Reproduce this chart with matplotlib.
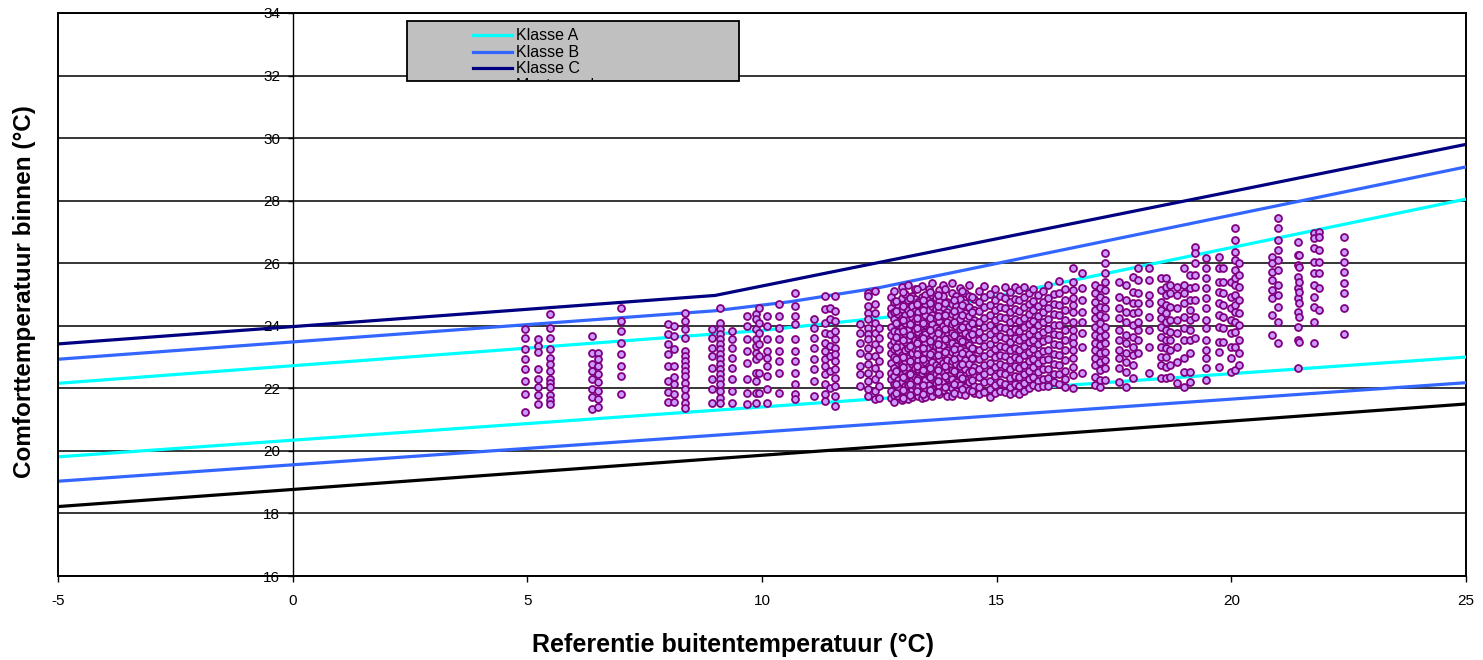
import matplotlib
matplotlib.use("Agg")
import matplotlib.pyplot as plt
from matplotlib.lines import Line2D
from matplotlib.patches import Rectangle
from matplotlib.transforms import Bbox, TransformedBbox

plt.rcParams['font.family'] = ['Liberation Sans', 'DejaVu Sans']

# ---- comfort limit lines (reference outdoor temp -> indoor comfort temp) ----
upper_a_x = [-5, 10, 13, 25]
upper_a_y = [22.16, 23.85, 24.33, 28.05]
upper_b_x = [-5, 9, 10.6, 12.5, 25]
upper_b_y = [22.93, 24.48, 24.77, 25.22, 29.08]
upper_c_x = [-5, 9, 25]
upper_c_y = [23.42, 24.97, 29.80]
lower_a_x = [-5, 25]
lower_a_y = [19.81, 23.00]
lower_b_x = [-5, 25]
lower_b_y = [19.03, 22.18]
lower_c_x = [-5, 25]
lower_c_y = [18.22, 21.50]

# ---- measured hourly values, grouped per day (reference temperature) ----
left_x = [4.96, 5.22, 5.48, 6.37, 6.50, 7.00, 8.00, 8.13, 8.36, 8.93, 9.11,
          9.37, 9.67, 9.87, 9.94, 10.10, 10.36, 10.70, 11.11, 11.35, 11.45,
          11.55, 12.09, 12.25, 12.40, 12.50]
left_y = [
    [23.89, 23.62, 23.25, 22.93, 22.62, 22.24, 21.83, 21.25],
    [23.59, 23.36, 23.15, 22.62, 22.30, 22.03, 21.78, 21.51],
    [24.37, 23.94, 23.62, 23.25, 22.98, 22.78, 22.56, 22.30, 22.16, 22.03, 21.78, 21.62, 21.51],
    [23.67, 23.14, 22.77, 22.55, 22.30, 21.98, 21.71, 21.35],
    [23.14, 22.93, 22.71, 22.46, 22.19, 21.92, 21.66, 21.40],
    [24.58, 24.15, 23.83, 23.46, 23.09, 22.72, 22.40, 21.83],
    [24.05, 23.73, 23.41, 23.09, 22.72, 22.24, 21.87, 21.55],
    [23.99, 23.67, 23.25, 22.72, 22.35, 22.14, 21.82, 21.55],
    [24.42, 24.15, 23.89, 23.62, 23.19, 23.03, 22.87, 22.71, 22.55, 22.39, 22.18, 21.97, 21.75, 21.54, 21.36],
    [23.89, 23.62, 23.30, 23.03, 22.66, 22.29, 21.97, 21.54],
    [24.58, 24.10, 23.89, 23.73, 23.57, 23.41, 23.25, 23.09, 22.93, 22.77, 22.61, 22.45, 22.29, 22.13, 21.92, 21.70, 21.54],
    [23.83, 23.57, 23.30, 22.98, 22.66, 22.29, 21.91, 21.54],
    [24.31, 23.99, 23.57, 23.19, 22.82, 22.29, 21.86, 21.49],
    [24.37, 24.21, 23.89, 23.57, 23.35, 23.14, 22.93, 22.50, 22.23, 21.86, 21.54],
    [24.58, 24.10, 23.78, 23.41, 23.03, 22.50, 21.86],
    [24.31, 23.99, 23.57, 23.19, 22.98, 22.71, 22.39, 21.97, 21.54],
    [24.69, 24.31, 23.94, 23.57, 23.19, 22.87, 22.50, 21.86],
    [25.06, 24.63, 24.31, 24.05, 23.57, 23.19, 22.87, 22.50, 22.13, 21.81, 21.67],
    [24.21, 23.94, 23.62, 23.30, 22.93, 22.61, 22.23, 21.75],
    [24.95, 24.53, 24.10, 23.78, 23.46, 23.19, 22.93, 22.71, 22.45, 22.13, 21.81, 21.59],
    [24.58, 24.21, 23.73, 23.35, 23.03, 22.55, 22.02],
    [24.95, 24.47, 24.15, 23.83, 23.57, 23.30, 23.09, 22.87, 22.61, 22.34, 22.07, 21.75, 21.43],
    [24.05, 23.78, 23.46, 23.14, 22.71, 22.45, 22.07],
    [25.06, 24.95, 24.63, 24.42, 24.21, 23.94, 23.73, 23.57, 23.30, 23.03, 22.77, 22.50, 22.23, 21.97, 21.75],
    [25.11, 24.69, 24.42, 24.10, 23.78, 23.41, 23.03, 22.66, 22.29, 21.91, 21.65],
    [23.94, 23.62, 23.25, 22.87, 22.45, 22.07, 21.70],
]

mid_x = [12.74, 12.82, 12.90, 12.98, 13.05, 13.12, 13.19, 13.26, 13.33, 13.40,
         13.47, 13.55, 13.62, 13.70, 13.78, 13.86, 13.95, 14.04, 14.13, 14.22,
         14.32, 14.42, 14.52, 14.63, 14.74, 14.86, 14.97, 15.07, 15.18, 15.28,
         15.38, 15.48, 15.58, 15.68, 15.78, 15.88, 15.98, 16.10, 16.22, 16.33,
         16.46]
mid_y = [
    [24.93, 24.58, 24.37, 23.96, 23.71, 23.38, 23.14, 22.81, 22.49, 22.30, 21.93, 21.68],
    [25.12, 24.77, 24.44, 24.22, 23.84, 23.52, 23.27, 23.01, 22.66, 22.38, 22.15, 21.80, 21.57],
    [24.66, 24.39, 24.03, 23.79, 23.43, 23.19, 22.90, 22.58, 22.27, 22.02, 21.74],
    [25.24, 24.88, 24.55, 24.25, 23.92, 23.63, 23.35, 23.08, 22.74, 22.47, 22.19, 21.88, 21.63],
    [25.02, 24.71, 24.33, 24.09, 23.74, 23.47, 23.21, 22.86, 22.60, 22.33, 22.06, 21.78],
    [25.30, 24.82, 24.50, 24.18, 23.88, 23.57, 23.30, 22.97, 22.69, 22.42, 22.11, 21.84, 21.66],
    [24.95, 24.63, 24.28, 24.01, 23.69, 23.40, 23.12, 22.79, 22.53, 22.24, 21.96, 21.71],
    [25.16, 24.86, 24.47, 24.15, 23.86, 23.55, 23.26, 22.93, 22.64, 22.36, 22.08, 21.81],
    [24.77, 24.45, 24.12, 23.81, 23.50, 23.23, 22.91, 22.62, 22.33, 22.03, 21.74],
    [25.27, 24.92, 24.58, 24.29, 23.98, 23.66, 23.37, 23.05, 22.77, 22.48, 22.17, 21.90, 21.69],
    [24.99, 24.69, 24.36, 24.04, 23.73, 23.44, 23.15, 22.84, 22.55, 22.26, 21.99, 21.72],
    [25.19, 24.81, 24.51, 24.20, 23.90, 23.58, 23.29, 22.99, 22.71, 22.40, 22.12, 21.85],
    [25.36, 24.97, 24.64, 24.33, 24.05, 23.74, 23.43, 23.16, 22.85, 22.57, 22.29, 21.98, 21.76],
    [24.88, 24.55, 24.24, 23.93, 23.62, 23.34, 23.03, 22.75, 22.46, 22.18, 21.89],
    [25.14, 24.79, 24.47, 24.16, 23.85, 23.54, 23.25, 22.95, 22.67, 22.37, 22.09, 21.81],
    [25.31, 24.94, 24.61, 24.31, 24.00, 23.70, 23.39, 23.11, 22.81, 22.52, 22.23, 21.94],
    [24.76, 24.43, 24.13, 23.79, 23.51, 23.21, 22.90, 22.63, 22.34, 22.06, 21.77],
    [25.38, 25.04, 24.69, 24.39, 24.07, 23.77, 23.46, 23.17, 22.87, 22.60, 22.31, 22.01, 21.75],
    [24.96, 24.62, 24.27, 23.98, 23.66, 23.36, 23.09, 22.78, 22.49, 22.21, 21.91],
    [25.21, 24.85, 24.53, 24.21, 23.89, 23.59, 23.27, 22.99, 22.70, 22.42, 22.11, 21.83],
    [25.06, 24.73, 24.41, 24.07, 23.78, 23.49, 23.19, 22.89, 22.61, 22.31, 22.03, 21.79],
    [25.29, 24.96, 24.61, 24.31, 23.99, 23.67, 23.38, 23.09, 22.79, 22.51, 22.21, 21.94],
    [24.86, 24.51, 24.19, 23.87, 23.57, 23.26, 22.97, 22.67, 22.39, 22.09, 21.84],
    [25.11, 24.77, 24.46, 24.13, 23.81, 23.53, 23.21, 22.93, 22.63, 22.35, 22.05, 21.81],
    [25.26, 24.91, 24.59, 24.26, 23.95, 23.63, 23.35, 23.03, 22.76, 22.45, 22.19, 21.89],
    [25.01, 24.67, 24.36, 24.02, 23.73, 23.41, 23.13, 22.82, 22.55, 22.24, 21.97, 21.73],
    [25.17, 24.84, 24.51, 24.19, 23.87, 23.59, 23.27, 22.99, 22.69, 22.41, 22.11, 21.85],
    [24.94, 24.61, 24.29, 23.97, 23.67, 23.35, 23.07, 22.77, 22.49, 22.19, 21.93],
    [25.24, 24.89, 24.57, 24.25, 23.93, 23.61, 23.33, 23.03, 22.72, 22.45, 22.14, 21.87],
    [25.09, 24.75, 24.43, 24.11, 23.81, 23.49, 23.21, 22.89, 22.61, 22.33, 22.03, 21.81],
    [25.23, 24.87, 24.54, 24.23, 23.91, 23.61, 23.29, 23.01, 22.71, 22.41, 22.14, 21.88],
    [25.14, 24.81, 24.47, 24.16, 23.83, 23.55, 23.23, 22.95, 22.64, 22.37, 22.07, 21.83],
    [25.25, 24.91, 24.59, 24.26, 23.96, 23.63, 23.34, 23.05, 22.74, 22.47, 22.17, 21.91],
    [25.04, 24.71, 24.39, 24.07, 23.75, 23.47, 23.15, 22.87, 22.57, 22.29, 22.01],
    [25.16, 24.79, 24.49, 24.15, 23.86, 23.54, 23.26, 22.94, 22.67, 22.37, 22.11],
    [24.97, 24.64, 24.31, 24.01, 23.69, 23.41, 23.09, 22.81, 22.51, 22.23, 22.04],
    [25.11, 24.77, 24.45, 24.13, 23.81, 23.51, 23.19, 22.91, 22.61, 22.31, 22.06],
    [25.31, 24.89, 24.56, 24.21, 23.89, 23.57, 23.23, 22.93, 22.63, 22.33, 22.08],
    [25.03, 24.71, 24.37, 24.04, 23.73, 23.41, 23.09, 22.79, 22.47, 22.19],
    [25.44, 25.06, 24.67, 24.35, 24.01, 23.69, 23.37, 23.07, 22.75, 22.46, 22.14],
    [25.19, 24.84, 24.51, 24.17, 23.86, 23.53, 23.21, 22.89, 22.57, 22.29, 22.03],
]

# extra days in the busiest range 12.8 - 14.5
mid2_x = [12.86, 13.01, 13.16, 13.30, 13.44, 13.58, 13.74, 13.90, 14.09,
          14.27, 14.47]
mid2_y = [
    [24.80, 24.47, 24.10, 23.64, 23.33, 22.95, 22.54, 22.13, 21.86],
    [25.08, 24.62, 24.18, 23.82, 23.55, 23.01, 22.68, 22.36, 21.95, 21.70],
    [24.90, 24.41, 24.05, 23.72, 23.35, 22.88, 22.47, 22.15, 21.79],
    [25.18, 24.70, 24.26, 23.93, 23.46, 23.09, 22.71, 22.28, 21.92],
    [24.84, 24.52, 24.10, 23.60, 23.28, 22.93, 22.58, 22.12, 21.82],
    [25.08, 24.73, 24.26, 23.88, 23.52, 23.10, 22.66, 22.36, 21.96],
    [24.98, 24.63, 24.31, 23.76, 23.42, 23.08, 22.59, 22.24, 21.88],
    [25.19, 24.72, 24.36, 23.91, 23.58, 23.16, 22.72, 22.40, 22.03],
    [24.83, 24.48, 24.13, 23.70, 23.27, 22.93, 22.55, 22.15, 21.86],
    [25.12, 24.68, 24.34, 23.95, 23.52, 23.14, 22.77, 22.33, 21.98],
    [24.92, 24.45, 24.10, 23.74, 23.30, 22.96, 22.57, 22.26, 21.90],
]

right_x = [16.63, 16.82, 17.10, 17.20, 17.30, 17.60, 17.75, 17.90, 18.02, 18.25,
           18.50, 18.60, 18.70, 18.84, 19.00, 19.12, 19.22, 19.46, 19.74, 19.83,
           20.00, 20.08, 20.17, 20.86, 21.00, 21.41, 21.44, 21.77, 21.86, 22.39]
right_y = [
    [25.84, 25.41, 25.14, 24.88, 24.66, 24.45, 24.13, 23.86, 23.65, 23.44, 23.22, 22.96, 22.69, 22.43, 22.00],
    [25.68, 25.20, 24.82, 24.45, 24.13, 23.76, 23.33, 22.48],
    [25.30, 25.04, 24.77, 24.50, 24.24, 23.97, 23.70, 23.44, 23.22, 22.96, 22.75, 22.37, 22.11],
    [25.20, 24.93, 24.61, 24.34, 24.08, 23.86, 23.65, 23.38, 23.12, 22.85, 22.59, 22.27, 22.05],
    [26.32, 26.00, 25.68, 25.41, 25.14, 24.82, 24.56, 24.29, 23.97, 23.70, 23.44, 23.17, 22.91, 22.64, 22.27],
    [25.41, 24.93, 24.56, 24.24, 23.86, 23.54, 23.22, 22.96, 22.64, 22.21],
    [25.30, 24.82, 24.45, 24.13, 23.70, 23.44, 23.12, 22.85, 22.53, 22.05],
    [25.57, 25.09, 24.72, 24.40, 24.02, 23.65, 23.33, 23.06, 22.75, 22.32],
    [25.84, 25.46, 25.04, 24.72, 24.45, 24.13, 23.86, 23.54, 23.12],
    [25.84, 25.46, 24.98, 24.72, 24.29, 23.86, 23.33, 22.48],
    [25.52, 25.14, 24.77, 24.50, 24.24, 23.97, 23.65, 23.33, 23.01, 22.75, 22.32],
    [25.52, 25.25, 24.98, 24.66, 24.40, 24.13, 23.86, 23.54, 23.28, 23.01, 22.69, 22.32],
    [25.30, 25.04, 24.61, 24.18, 23.81, 23.54, 23.22, 22.75, 22.37],
    [25.25, 24.98, 24.56, 24.18, 23.76, 23.33, 22.85, 22.16],
    [25.84, 25.30, 25.04, 24.72, 24.29, 23.92, 23.54, 22.96, 22.53, 22.05],
    [25.62, 25.20, 24.82, 24.50, 24.18, 23.86, 23.54, 23.12, 22.53, 22.21],
    [26.53, 26.32, 26.00, 25.62, 25.25, 24.82, 24.29, 23.60],
    [26.16, 25.84, 25.52, 25.20, 24.88, 24.56, 24.18, 23.92, 23.54, 23.22, 22.96, 22.64, 22.27],
    [26.21, 25.84, 25.41, 25.09, 24.72, 24.34, 23.97, 23.49, 23.17, 22.69],
    [25.84, 25.41, 25.04, 24.66, 24.29, 23.92, 23.49],
    [25.41, 24.93, 24.56, 24.18, 23.76, 23.33, 22.96, 22.53],
    [27.12, 26.74, 26.37, 26.10, 25.78, 25.52, 25.30, 24.98, 24.66, 24.45, 24.13, 23.81, 23.33, 22.59],
    [26.00, 25.62, 25.25, 24.82, 24.40, 24.02, 23.54, 23.12, 22.75],
    [26.21, 26.00, 25.73, 25.46, 25.14, 24.88, 24.34, 23.70],
    [27.44, 27.12, 26.74, 26.42, 26.10, 25.78, 25.30, 24.98, 24.61, 24.13, 23.44],
    [26.69, 26.26, 25.94, 25.57, 25.20, 24.88, 24.45, 23.97, 23.54, 22.64],
    [26.26, 25.89, 25.41, 25.09, 24.72, 24.29, 23.49],
    [26.96, 26.80, 26.48, 26.05, 25.68, 25.30, 24.93, 24.61, 24.13, 23.44],
    [27.01, 26.85, 26.42, 26.05, 25.68, 25.20, 24.50],
    [26.85, 26.37, 26.05, 25.73, 25.36, 25.04, 24.56, 23.73],
]

legend_labels = ["Klasse A", "Klasse B", "Klasse C", "Meetwaarden"]
x_ticks = [-5, 0, 5, 10, 15, 20, 25]
y_ticks = [16, 18, 20, 22, 24, 26, 28, 30, 32, 34]

COL_A = "#00FFFF"
COL_B = "#3366FF"
COL_C = "#000080"
COL_LOW_C = "#000000"

W, H = 1483, 660
fig = plt.figure(figsize=(W / 100, H / 100), dpi=100)
ax = fig.add_axes([58 / W, 1 - 576 / H, (1466 - 58) / W, (576 - 13) / H])

ax.set_xlim(-5, 25)
ax.set_ylim(16, 34)

# horizontal gridlines
ax.set_axisbelow(True)
ax.yaxis.grid(True, color="black", linewidth=1.1)
ax.xaxis.grid(False)

lw = 2.3
ax.plot(lower_c_x, lower_c_y, color=COL_LOW_C, lw=lw, zorder=3)
ax.plot(lower_b_x, lower_b_y, color=COL_B, lw=lw, zorder=3)
ax.plot(lower_a_x, lower_a_y, color=COL_A, lw=lw, zorder=3)
ax.plot(upper_c_x, upper_c_y, color=COL_C, lw=lw, zorder=3)
ax.plot(upper_b_x, upper_b_y, color=COL_B, lw=lw, zorder=3)
ax.plot(upper_a_x, upper_a_y, color=COL_A, lw=lw, zorder=3)

pts_x, pts_y = [], []
for xs, ys in ((left_x, left_y), (mid_x, mid_y), (mid2_x, mid2_y),
               (right_x, right_y)):
    for xv, col in zip(xs, ys):
        pts_x.extend([xv] * len(col))
        pts_y.extend(col)
ax.scatter(pts_x, pts_y, s=25, facecolor="#CC99FF", edgecolor="#800080",
           linewidths=1.3, zorder=4)

# axes: y-axis crosses at x = 0, frame around plot area
ax.spines["left"].set_position(("data", 0))
ax.spines["left"].set_linewidth(1.0)
for side in ("top", "bottom", "right"):
    ax.spines[side].set_linewidth(1.4)
    ax.spines[side].set_color("black")
ax.axvline(-5, color="black", lw=1.4, zorder=5, clip_on=False)

ax.set_xticks(x_ticks)
ax.set_xticklabels([str(v) for v in x_ticks])
ax.set_yticks(y_ticks)
ax.set_yticklabels([str(v) for v in y_ticks])
ax.tick_params(axis="x", direction="out", length=4.3, width=1.0, pad=9.0,
               labelsize=11, colors="black")
ax.tick_params(axis="y", direction="out", length=3.6, width=1.0, pad=5.5,
               labelsize=11, colors="black")

fig.text(733 / W, 1 - 645 / H, "Referentie buitentemperatuur (\u00b0C)",
         ha="center", va="center", fontsize=18, fontweight="bold")
fig.text(25 / W, 1 - 292 / H, "Comforttemperatuur binnen (\u00b0C)",
         ha="center", va="center", rotation=90, fontsize=17.5,
         fontweight="bold")

# legend box
bx0, by0, bx1, by1 = 407, 21, 739, 81
fig.add_artist(Rectangle((bx0 / W, 1 - by1 / H), (bx1 - bx0) / W,
                         (by1 - by0) / H, transform=fig.transFigure,
                         facecolor="#C0C0C0", edgecolor="black", lw=1.3,
                         zorder=6))
clip = TransformedBbox(Bbox.from_extents(bx0 / W, 1 - (by1 - 1) / H,
                                         bx1 / W, 1 - by0 / H),
                       fig.transFigure)
entry_y = [35, 51.5, 68, 84.5]
entry_col = [COL_A, COL_B, COL_C, None]
for lab, yy, col in zip(legend_labels, entry_y, entry_col):
    if col is not None:
        fig.add_artist(Line2D([473 / W, 512 / W], [1 - yy / H] * 2,
                              transform=fig.transFigure, color=col, lw=2.3,
                              zorder=7))
    t = fig.text(516 / W, 1 - (yy + 0.7) / H, lab, ha="left", va="center",
                 fontsize=11.5, zorder=8)
    t.set_clip_box(clip)
    t.set_clip_on(True)

fig.savefig("out.png", dpi=100)
